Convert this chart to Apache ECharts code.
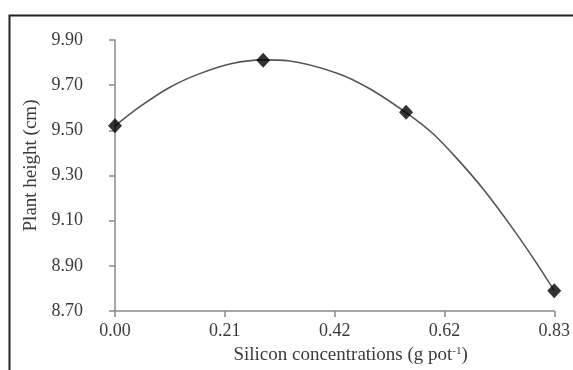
<!DOCTYPE html>
<html>
<head>
<meta charset="utf-8">
<script src="https://cdn.jsdelivr.net/npm/echarts@6/dist/echarts.min.js"></script>
<style>
html,body{margin:0;padding:0;background:#fff;}
#chart{width:573px;height:370px;}
</style>
</head>
<body>
<div id="chart"></div>
<script>
// Observed data points (diamond markers)
var pointX = [0.00, 0.28, 0.55, 0.83];
var pointY = [9.52, 9.81, 9.58, 8.79];

// Fitted trend curve
var curveX = [0.000, 0.047, 0.103, 0.159, 0.221, 0.280, 0.327, 0.421, 0.483, 0.552, 0.601, 0.645, 0.695, 0.751, 0.794, 0.830];
var curveY = [9.520, 9.605, 9.690, 9.750, 9.796, 9.812, 9.808, 9.752, 9.682, 9.575, 9.485, 9.378, 9.242, 9.067, 8.921, 8.790];

// Tick labels
var xTickLabels = ["0.00", "0.21", "0.42", "0.62", "0.83"];
var yTickLabels = ["8.70", "8.90", "9.10", "9.30", "9.50", "9.70", "9.90"];

var xMin = 0, xMax = 0.83;
var yMin = 8.70, yMax = 9.90;

var FONT = "Liberation Serif";
var TXT = "#3a3a3a";
var AX = "#8a8a8a";

function zip(a, b) { return a.map(function (v, i) { return [v, b[i]]; }); }

var chart = echarts.init(document.getElementById('chart'), null, {renderer: 'canvas'});
chart.setOption({
  animation: false,
  backgroundColor: '#ffffff',
  grid: {left: 115, right: 14, top: 40, bottom: 53, containLabel: false},
  xAxis: [
    { // data axis (hidden)
      type: 'value', min: xMin, max: xMax, show: false
    },
    { // display axis
      type: 'value', min: 0, max: xTickLabels.length - 1, interval: 1,
      position: 'bottom',
      axisLine: {show: true, lineStyle: {color: AX, width: 1.5}},
      axisTick: {show: true, length: 6, inside: false, lineStyle: {color: AX, width: 1.5}},
      splitLine: {show: false},
      axisLabel: {
        margin: 11, color: TXT, fontFamily: FONT, fontSize: 18,
        formatter: function (v) { return xTickLabels[Math.round(v)]; }
      },
      name: '{n|Silicon concentrations (g pot}{s|-1}{n|)}',
      nameLocation: 'middle', nameGap: 35,
      nameTextStyle: {
        padding: [0, 0, 0, 32],
        rich: {
          n: {fontFamily: FONT, fontSize: 19, color: TXT},
          s: {fontFamily: FONT, fontSize: 11, color: TXT, verticalAlign: 'top', padding: [0, 0, 8, 0]}
        }
      }
    }
  ],
  yAxis: [
    { // data axis (hidden)
      type: 'value', min: yMin, max: yMax, show: false
    },
    { // display axis
      type: 'value', min: 0, max: yTickLabels.length - 1, interval: 1,
      position: 'left',
      axisLine: {show: true, lineStyle: {color: AX, width: 1.5}},
      axisTick: {show: true, length: 6, inside: false, lineStyle: {color: AX, width: 1.5}},
      splitLine: {show: false},
      axisLabel: {
        margin: 32, color: TXT, fontFamily: FONT, fontSize: 18,
        formatter: function (v) { return yTickLabels[Math.round(v)]; }
      },
      name: 'Plant height (cm)',
      nameLocation: 'middle', nameGap: 74, nameRotate: 90,
      nameTextStyle: {fontFamily: FONT, fontSize: 19, color: TXT, padding: [0, 0, 0, 20]}
    }
  ],
  series: [
    {
      type: 'line', xAxisIndex: 0, yAxisIndex: 0,
      data: zip(curveX, curveY),
      smooth: 0.3, showSymbol: false, symbol: 'none',
      lineStyle: {color: '#555555', width: 1.6},
      z: 2
    },
    {
      type: 'scatter', xAxisIndex: 0, yAxisIndex: 0,
      data: zip(pointX, pointY),
      symbol: 'diamond', symbolSize: [14, 15],
      itemStyle: {color: '#000000'},
      z: 3
    }
  ],
  graphic: [
    {
      type: 'rect', left: 7, top: 13, silent: true,
      shape: {x: 0, y: 0, width: 620, height: 420},
      style: {fill: 'none', stroke: '#222222', lineWidth: 2}
    }
  ]
});
</script>
</body>
</html>
